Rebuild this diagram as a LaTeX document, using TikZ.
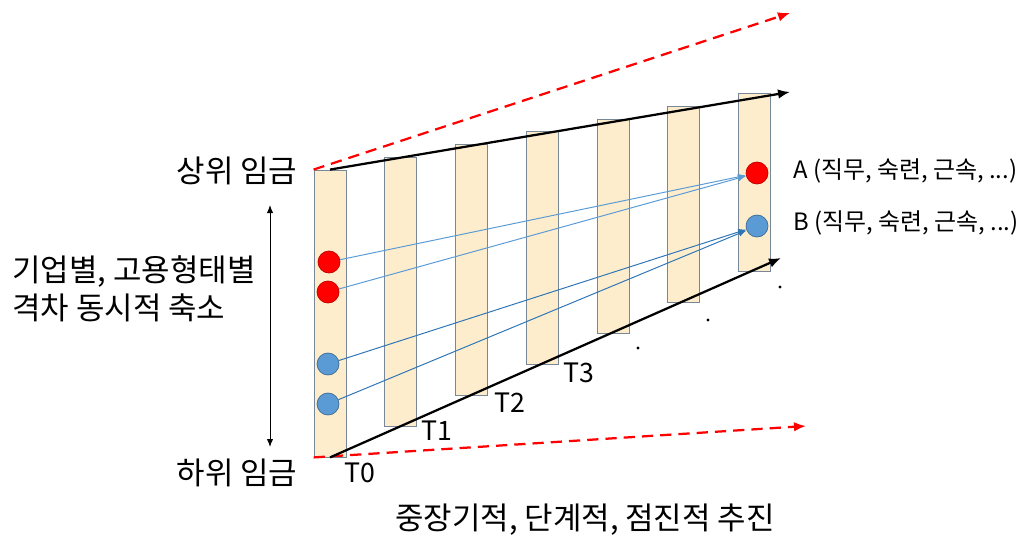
\documentclass[tikz,border=0pt]{standalone}
\usepackage{fontspec}
\setmainfont{Noto Sans CJK KR}
\usetikzlibrary{arrows.meta,calc,positioning}
\definecolor{barfill}{RGB}{253,237,204}
\definecolor{baredge}{RGB}{120,135,150}
\definecolor{dotred}{RGB}{255,0,0}
\definecolor{dotblue}{RGB}{91,155,213}
\definecolor{flowlight}{RGB}{91,155,213}
\definecolor{flowdark}{RGB}{46,117,182}

\begin{document}
\begin{tikzpicture}[x=0.025cm,y=-0.025cm,
    bar/.style={draw=baredge,fill=barfill,line width=0.6pt,minimum width=0.8cm,inner sep=0pt},
    dotR/.style={circle,fill=dotred,draw=red!75!black,line width=0.5pt,minimum size=0.55cm,inner sep=0pt},
    dotB/.style={circle,fill=dotblue,draw=dotblue!70!black,line width=0.5pt,minimum size=0.55cm,inner sep=0pt},
    axisline/.style={line width=1.6pt,-{Latex[length=3mm,width=2.4mm]}},
    trend/.style={red,line width=1.6pt,dash pattern=on 8pt off 5pt,-{Latex[length=3mm,width=2.4mm]}},
    flow/.style={line width=0.7pt,-{Latex[length=2mm,width=1.6mm]}},
    big/.style={font=\fontsize{22}{27}\selectfont},
    small/.style={font=\fontsize{17}{20}\selectfont},
    tlab/.style={font=\fontsize{19}{22}\selectfont,inner sep=0pt}]
            \useasboundingbox (0,0) rectangle (1023,538);

            % 시점별 임금 구간 (T0 ... Tn)
            \foreach \i in {0,...,6}{
                \pgfmathsetmacro{\cx}{330+70.75*\i}
                \pgfmathsetmacro{\tp}{170-12.7*\i}
                \pgfmathsetmacro{\bt}{457-31*\i}
                \node[bar,minimum height={(\bt-\tp)*0.025cm}] (bar\i) at (\cx,{(\tp+\bt)/2}) {};
            }

            % 상한, 하한 추세 (검정 실선, 빨강 점선)
            \coordinate (topEnd) at (790,92);
            \coordinate (botEnd) at (781,258);
            \coordinate (upEnd) at (790,13);
            \coordinate (lowEnd) at (806,426);
            \draw[trend] (bar0.north west) -- (upEnd);
            \draw[trend] (bar0.south west) -- (lowEnd);
            \draw[axisline] (bar0.north) -- (topEnd);
            \draw[axisline] (bar0.south) -- (botEnd);

            % 이어지는 점
            \fill (638,348) circle (1.6);
            \fill (708,320) circle (1.6);
            \fill (780,287) circle (1.6);

            % 근로자 (빨강 A, 파랑 B)
            \node[dotR] (r1) at (329,262) {};
            \node[dotR] (r2) at (328,292) {};
            \node[dotB] (b1) at (328,364) {};
            \node[dotB] (b2) at (328,404) {};
            \node[dotR] (rA) at (757,173) {};
            \node[dotB] (bB) at (757,226) {};
            \draw[flow,flowlight] (r1) -- (rA);
            \draw[flow,flowlight] (r2) -- (rA);
            \draw[flow,flowdark] (b1) -- (bB);
            \draw[flow,flowdark] (b2) -- (bB);

            % 시점 표시
            \node[tlab] (t0) at (360,473) {T0};
            \node[tlab] (t1) at (437,431) {T1};
            \node[tlab] (t2) at (510,403) {T2};
            \node[tlab] (t3) at (579,373) {T3};

            % 왼쪽 설명
            \node[big] (upper) at (237,171) {상위 임금};
            \node[big] (lower) at (237,473) {하위 임금};
            \node[big,align=left,anchor=west,inner sep=0pt] (gap) at (12,289) {기업별, 고용형태별\\격차 동시적 축소};
            \coordinate (gapTop) at (270,205);
            \coordinate (gapBot) at (270,447);
            \draw[line width=0.7pt,{Latex[length=2mm,width=1.6mm]}-{Latex[length=2mm,width=1.6mm]}] (gapTop) -- (gapBot);

            % 오른쪽 설명
            \node[small,anchor=west,inner sep=0pt] (tA) at (793,171) {A (직무, 숙련, 근속, ...)};
            \node[small,anchor=west,inner sep=0pt] (tB) at (793,223) {B (직무, 숙련, 근속, ...)};

            % 아래 설명
            \node[big] (prog) at (585,520) {중장기적, 단계적, 점진적 추진};
        \end{tikzpicture}
\end{document}
